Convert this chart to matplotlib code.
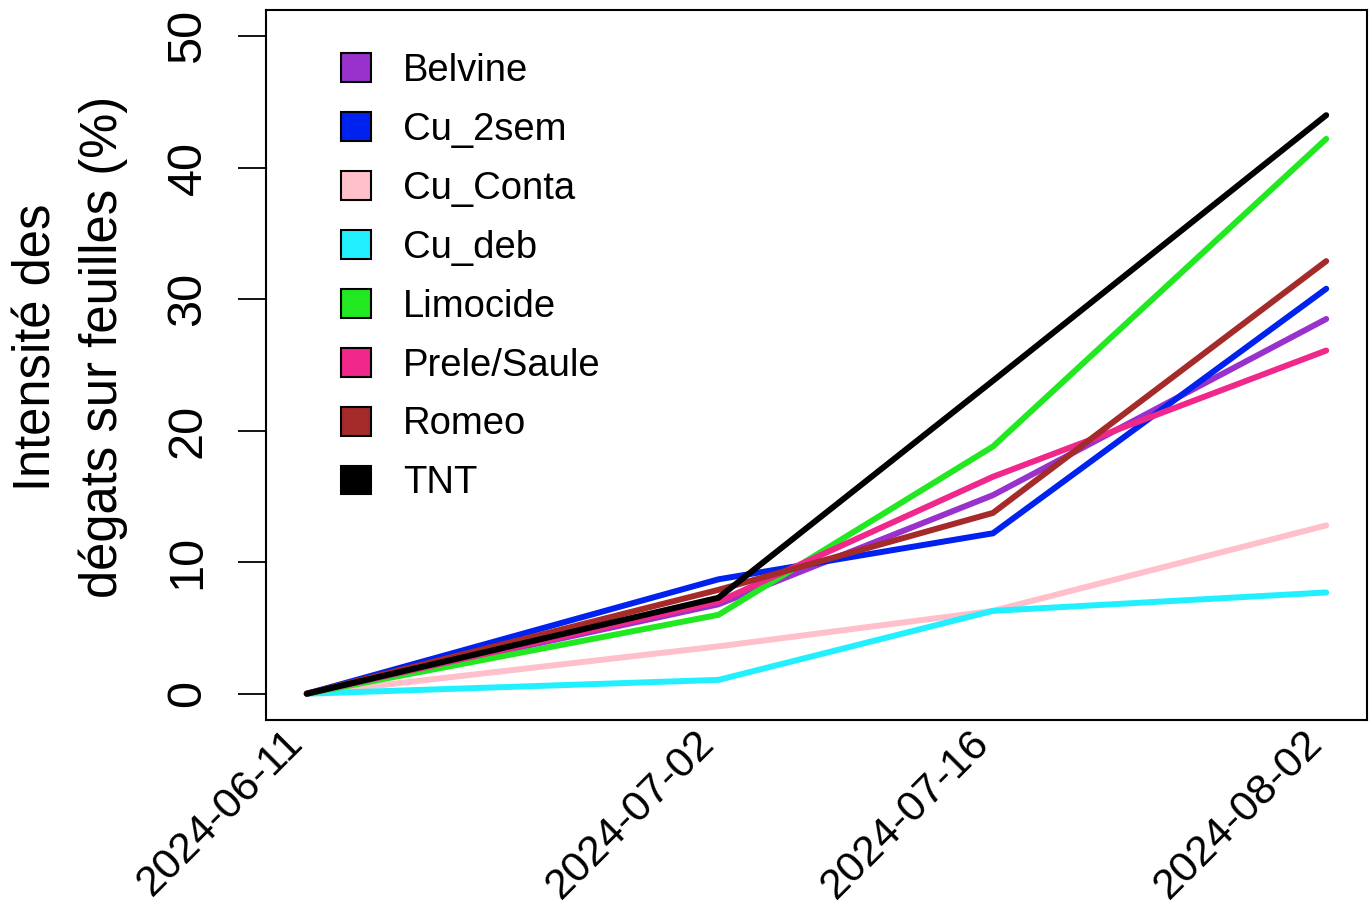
import matplotlib
matplotlib.use("Agg")
import matplotlib.pyplot as plt
import matplotlib.dates as mdates
from matplotlib.patches import Patch
from matplotlib.transforms import ScaledTranslation
import numpy as np

plt.rcParams['font.family'] = ['Liberation Sans', 'DejaVu Sans']

dates = ["2024-06-11", "2024-07-02", "2024-07-16", "2024-08-02"]
treatments = ["Belvine", "Cu_2sem", "Cu_Conta", "Cu_deb", "Limocide",
              "Prele/Saule", "Romeo", "TNT"]
belvine = [0, 6.8, 15.1, 28.5]
cu_2sem = [0, 8.7, 12.2, 30.8]
cu_conta = [0, 3.6, 6.3, 12.8]
cu_deb = [0, 1.05, 6.3, 7.7]
limocide = [0, 6.0, 18.8, 42.2]
prele_saule = [0, 7.0, 16.5, 26.1]
romeo = [0, 7.9, 13.75, 32.9]
tnt = [0, 7.3, 23.8, 44.0]
series = [belvine, cu_2sem, cu_conta, cu_deb, limocide, prele_saule, romeo, tnt]
colors = ["#9932CC", "#0022EE", "#FFC0CB", "#22F0FF", "#22E822",
          "#F0288C", "#A52A2A", "#000000"]
yticks = [0, 10, 20, 30, 40, 50]

x = np.array(dates, dtype="datetime64[D]")
xnum = mdates.date2num(x)

fig = plt.figure(figsize=(13.71, 9.06), dpi=100)
ax = fig.add_axes([266/1371, 1-720/906, (1367-266)/1371, (720-10)/906])

for vals, c in zip(series, colors):
    ax.plot(xnum, vals, color=c, lw=4.3, solid_capstyle='round',
            solid_joinstyle='miter')

span = xnum[-1] - xnum[0]
ax.set_xlim(xnum[0] - 0.04*span, xnum[-1] + 0.04*span)
ax.set_ylim(-2, 52)

ax.set_yticks(yticks)
ax.set_yticklabels([str(v) for v in yticks], rotation=90, va='center',
                   fontsize=35)
ax.tick_params(axis='y', length=20, width=1.3, pad=20)

ax.set_xticks(xnum)
ax.set_xticklabels(dates, rotation=45, ha='right', va='center',
                   rotation_mode='anchor', fontsize=31)
ax.tick_params(axis='x', length=0, pad=12)
offset = ScaledTranslation(-7/72, 0, fig.dpi_scale_trans)
for lab in ax.get_xticklabels():
    lab.set_transform(lab.get_transform() + offset)

for s in ax.spines.values():
    s.set_linewidth(1.5)

fig.text(0.051, 0.617, "Intensité des\ndégats sur feuilles (%)",
         rotation=90, ha='center', va='center', fontsize=36.5,
         multialignment='center', linespacing=1.45)

handles = [Patch(facecolor=c, edgecolor='black', linewidth=1.5) for c in colors]
leg = ax.legend(handles, treatments, loc='upper left', frameon=False,
                fontsize=27.5, handlelength=0.78, handleheight=0.78,
                handletextpad=0.85, labelspacing=0.6,
                bbox_to_anchor=(341/1371, 1-53/906),
                bbox_transform=fig.transFigure, borderaxespad=0,
                borderpad=0)

fig.savefig("out.png", dpi=100)
